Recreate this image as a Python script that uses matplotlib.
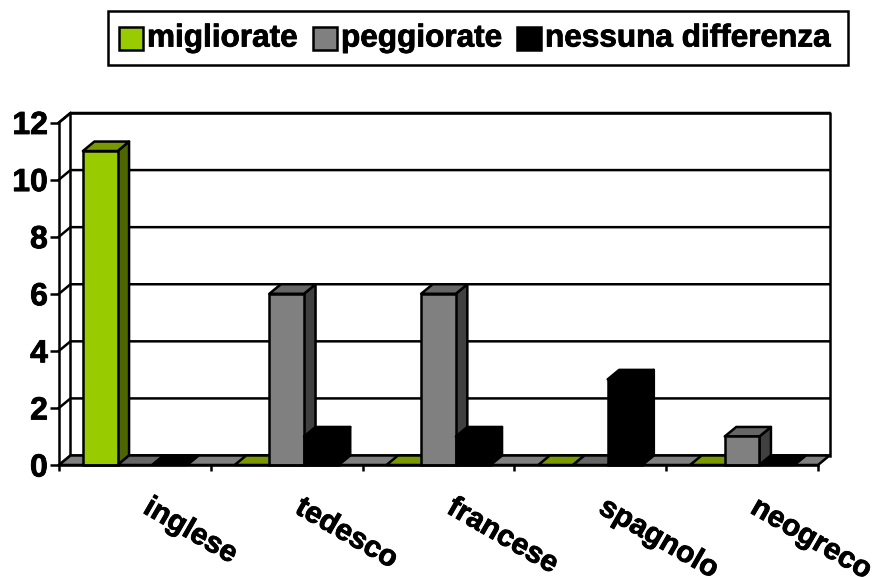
import matplotlib
matplotlib.use('Agg')
import matplotlib.pyplot as plt
import matplotlib.patheffects as pe
from matplotlib.patches import Polygon, Rectangle

plt.rcParams['font.family'] = ['Liberation Sans', 'DejaVu Sans']
plt.rcParams['font.weight'] = 'bold'

categories = ['inglese', 'tedesco', 'francese', 'spagnolo', 'neogreco']
migliorate = [11, 0, 0, 0, 0]
peggiorate = [0, 6, 6, 0, 1]
nessuna = [0, 1, 1, 3, 0]
series_names = ['migliorate', 'peggiorate', 'nessuna differenza']
y_ticks = [0, 2, 4, 6, 8, 10, 12]

# front, top and side colour of each series
front_colors = ['#99cc00', '#808080', '#000000']
top_colors = ['#7a9900', '#666666', '#000000']
side_colors = ['#4d6600', '#404040', '#000000']

W, H = 878, 577
LW = 1.8
# the original text is a bit heavier than Liberation bold
heavy = [pe.withStroke(linewidth=0.6, foreground='black')]

fig = plt.figure(figsize=(W / 100, H / 100), dpi=100)
# front plane of the 3d box, in pixels
left, right, top, bottom = 59, 818, 122.5, 465
ax = fig.add_axes([left / W, 1 - bottom / H, (right - left) / W, (bottom - top) / H])
ax.set_xlim(0, len(categories))
ax.set_ylim(0, 12)
ax.patch.set_visible(False)

# depth of the box in data units
dx = 11.5 / ((right - left) / len(categories))
dy = 9.5 / ((bottom - top) / 12)
n = len(categories)
bar_w = 0.2285
gap = (1 - 3 * bar_w) / 2


def poly(points, color, z):
    ax.add_patch(Polygon(points, closed=True, facecolor=color, edgecolor='black',
                         linewidth=LW, clip_on=False, zorder=z, joinstyle='round'))


# walls and gridlines
ax.plot([dx, dx, n + dx, n + dx], [dy, 12 + dy, 12 + dy, dy], color='black', lw=LW,
        clip_on=False, zorder=1)
for v in y_ticks:
    ax.plot([0, dx, n + dx], [v, v + dy, v + dy], color='black', lw=LW, clip_on=False, zorder=1)
ax.plot([0, dx], [12, 12 + dy], color='black', lw=LW, clip_on=False, zorder=1)

# floor
poly([(0, 0), (n, 0), (n + dx, dy), (dx, dy)], '#808080', 2)

# bars
z = 3
for i in range(n):
    for j, vals in enumerate([migliorate, peggiorate, nessuna]):
        v = vals[i]
        x0 = i + gap + j * bar_w
        x1 = x0 + bar_w
        poly([(x1, 0), (x1 + dx, dy), (x1 + dx, v + dy), (x1, v)], side_colors[j], z)
        poly([(x0, v), (x1, v), (x1 + dx, v + dy), (x0 + dx, v + dy)], top_colors[j], z)
        if v > 0:
            ax.bar(x0, v, bar_w, align='edge', color=front_colors[j], edgecolor='black',
                   linewidth=LW, clip_on=False, zorder=z)
        z += 1

# axes
for s in ['top', 'right']:
    ax.spines[s].set_visible(False)
for s in ['left', 'bottom']:
    ax.spines[s].set_linewidth(LW)
    ax.spines[s].set_zorder(30)
ax.set_yticks(y_ticks)
ax.set_yticklabels(y_ticks, fontsize=23, fontweight='bold')
ax.tick_params(axis='y', length=6.5, width=LW, pad=1.5)
ax.set_xticks(range(n + 1))
ax.set_xticklabels([])
ax.tick_params(axis='x', which='major', length=4.5, width=LW)
# labels start a little right of the group centre
ax.set_xticks([i + 0.572 for i in range(n)], categories, minor=True, fontsize=21.5,
              fontweight='bold', rotation=-30, ha='left', va='center', rotation_mode='anchor')
ax.tick_params(axis='x', which='minor', length=0, pad=29)
for lab in ax.get_yticklabels() + ax.get_xticklabels(minor=True):
    lab.set_path_effects(heavy)

# legend box
fig.add_artist(Rectangle((108.5 / W, 1 - 65 / H), 739.5 / W, 54 / H, transform=fig.transFigure,
                         facecolor='white', edgecolor='black', linewidth=LW))
swatch_x = [119, 313, 517]
text_x = [147, 341, 545]
for name, sx, tx, col in zip(series_names, swatch_x, text_x, front_colors):
    fig.add_artist(Rectangle((sx / W, 1 - 50 / H), 24 / W, 23 / H, transform=fig.transFigure,
                             facecolor=col, edgecolor='black', linewidth=LW))
    fig.text(tx / W, 1 - 38.5 / H, name, fontsize=22.7, fontweight='bold', va='center', ha='left',
             path_effects=heavy)

fig.savefig('out.png', dpi=100)
